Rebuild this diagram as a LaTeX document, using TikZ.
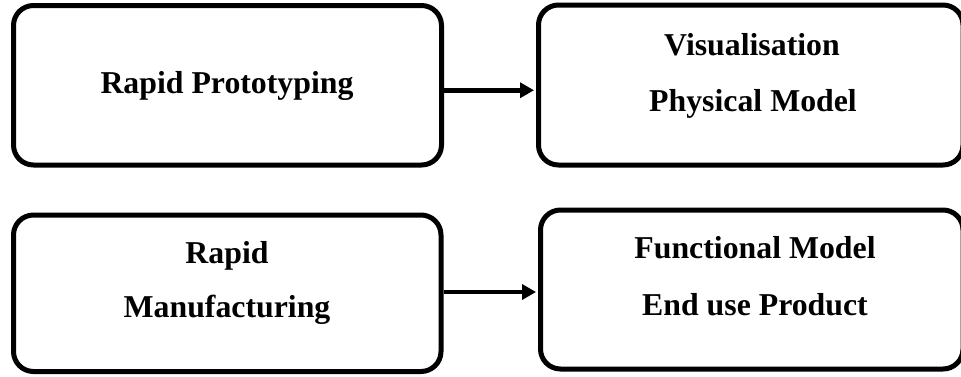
\documentclass[tikz,border=0pt]{standalone}
\usepackage{fontspec}
\setmainfont{Liberation Serif}
\usetikzlibrary{arrows.meta}
\begin{document}
\begin{tikzpicture}[x=1pt,y=-1pt,
  box/.style={draw=black,line width=5pt,rounded corners=20pt,inner sep=0pt,
    rectangle,anchor=center},
  lbl/.style={anchor=base,inner sep=0pt,font=\fontsize{31.8}{38}\selectfont\bfseries},
  link/.style={line width=4.5pt,-{Triangle[length=14pt,width=15pt]}}]
  \useasboundingbox (0,0) rectangle (961,376);
  % the four rounded boxes
  \node[box,minimum width=428pt,minimum height=159.5pt] (tl) at (227.5,85.25) {};
  \node[box,minimum width=424.5pt,minimum height=160pt] (tr) at (750.75,85) {};
  \node[box,minimum width=422.5pt,minimum height=159pt] (br) at (751.75,289.5) {};
  \node[box,minimum width=427.5pt,minimum height=156.5pt] (bl) at (227.25,293.25) {};
  % box texts
  \node[lbl] (rp) at (227,93) {Rapid Prototyping};
  \node[lbl] (vis) at (752,55) {Visualisation};
  \node[lbl] (pm) at (753,111) {Physical Model};
  \node[lbl] (rap) at (227,263) {Rapid};
  \node[lbl] (man) at (227,317) {Manufacturing};
  \node[lbl] (fm) at (755,258) {Functional Model};
  \node[lbl] (eup) at (755,315) {End use Product};
  % connectors
  \draw[link] ([yshift=-5pt]tl.east) -- ([yshift=-5pt,xshift=-2pt]tl.east -| tr.west);
  \draw[link] ([yshift=1.25pt]bl.east) -- ([yshift=1.25pt,xshift=-2pt]bl.east -| br.west);
\end{tikzpicture}
\end{document}
